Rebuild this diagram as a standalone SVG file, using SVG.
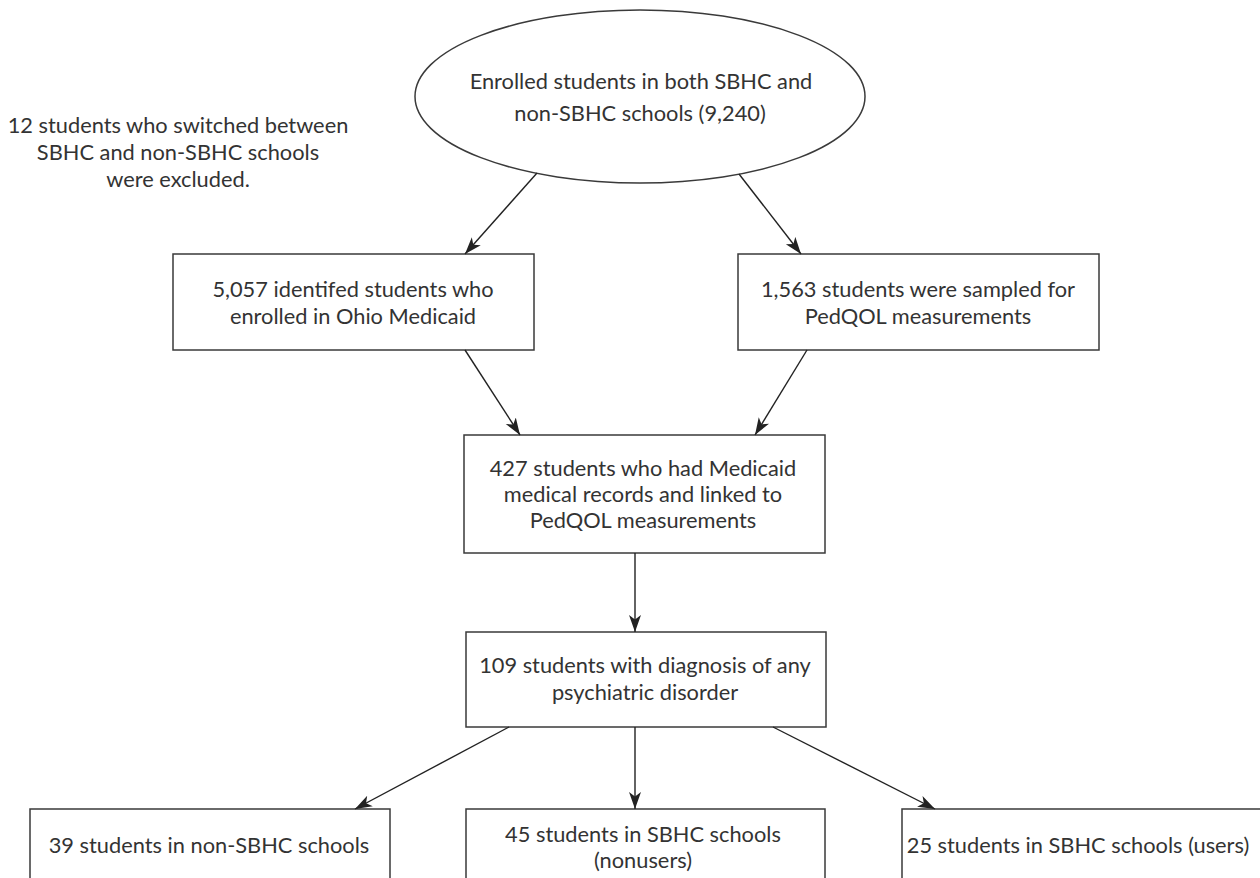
<svg xmlns="http://www.w3.org/2000/svg" width="1260" height="878" viewBox="0 0 1260 878">
<style>
.t{font-family:Lato,"Noto Sans","Liberation Sans",sans-serif;font-size:21.8px;fill:#333;text-anchor:middle}
.b{fill:#fff;stroke:#3a3a3a;stroke-width:1.5}
.c{stroke:#222;stroke-width:1.4;fill:none;marker-end:url(#ah)}
</style>
<defs>
<marker id="ah" markerUnits="userSpaceOnUse" markerWidth="18" markerHeight="14" refX="17" refY="7" orient="auto">
<path d="M0,1 L17,7 L0,13 L4.5,7 z" fill="#222"/>
</marker>
</defs>
<rect width="1260" height="878" fill="#fff"/>
<g id="note">
<text class="t" x="178" y="133">12 students who switched between</text>
<text class="t" x="178" y="160">SBHC and non-SBHC schools</text>
<text class="t" x="178" y="187">were excluded.</text>
</g>
<g id="enrolled">
<ellipse class="b" cx="640" cy="96.5" rx="225" ry="86.5"/>
<text class="t" x="641" y="89">Enrolled students in both SBHC and</text>
<text class="t" x="640" y="121">non-SBHC schools (9,240)</text>
</g>
<g id="medicaid">
<rect class="b" x="173" y="254" width="361" height="96"/>
<text class="t" x="353" y="297">5,057 identifed students who</text>
<text class="t" x="353" y="324">enrolled in Ohio Medicaid</text>
</g>
<g id="pedqol">
<rect class="b" x="738" y="254" width="361" height="96"/>
<text class="t" x="918" y="297">1,563 students were sampled for</text>
<text class="t" x="918" y="324">PedQOL measurements</text>
</g>
<g id="linked">
<rect class="b" x="464" y="435" width="361" height="118"/>
<text class="t" x="643" y="476">427 students who had Medicaid</text>
<text class="t" x="643" y="502">medical records and linked to</text>
<text class="t" x="643" y="528">PedQOL measurements</text>
</g>
<g id="psych">
<rect class="b" x="466" y="632" width="360" height="95"/>
<text class="t" x="645" y="673">109 students with diagnosis of any</text>
<text class="t" x="645" y="700">psychiatric disorder</text>
</g>
<g id="nonsbhc">
<rect class="b" x="30" y="809" width="360" height="90"/>
<text class="t" x="209" y="853">39 students in non-SBHC schools</text>
</g>
<g id="nonusers">
<rect class="b" x="466" y="809" width="359" height="90"/>
<text class="t" x="643" y="842">45 students in SBHC schools</text>
<text class="t" x="643" y="868">(nonusers)</text>
</g>
<g id="users">
<rect class="b" x="902" y="809" width="360" height="90"/>
<text class="t" x="1078" y="853">25 students in SBHC schools (users)</text>
</g>
<g id="connectors">
<line class="c" x1="537" y1="173" x2="465" y2="254"/>
<line class="c" x1="739" y1="174" x2="801" y2="254"/>
<line class="c" x1="465" y1="350" x2="520" y2="435"/>
<line class="c" x1="807" y1="350" x2="755" y2="435"/>
<line class="c" x1="635" y1="553" x2="635" y2="632"/>
<line class="c" x1="509" y1="727" x2="355" y2="809"/>
<line class="c" x1="635" y1="727" x2="635" y2="809"/>
<line class="c" x1="773" y1="727" x2="935" y2="809"/>
</g>
</svg>
